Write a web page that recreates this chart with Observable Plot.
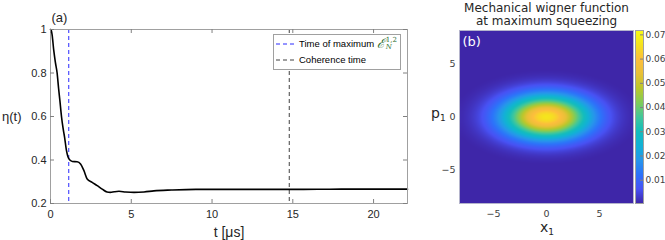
<!DOCTYPE html>
<html>
<head>
<meta charset="utf-8">
<script src="https://cdn.jsdelivr.net/npm/d3@7"></script>
<script src="https://cdn.jsdelivr.net/npm/@observablehq/plot@0.6"></script>
<style>
  body { margin: 0; background: #fff; }
  #fig { position: relative; width: 665px; height: 240px; overflow: hidden; }
  #fig > div, #fig > svg { position: absolute; }
  .legend { font-family: "Liberation Sans", Arial, sans-serif; font-size: 9.5px; color: #000;
            background: #fff; border: 1px solid #a0a0a0; padding: 1px 3px 1px 1px; line-height: 16px; }
  .legend .row { display: flex; align-items: center; white-space: nowrap; height: 16px; }
  .legend svg { margin-right: 2px; }
  .lbl { font-family: "DejaVu Sans", Verdana, sans-serif; font-size: 14px; color: #262626; line-height: 14px; white-space: nowrap; }
  .lbl sub { font-size: 9px; vertical-align: -3px; }
</style>
</head>
<body>
<div id="fig"></div>
<script>
// ---------- panel (a) data ----------
const tValues   = [0, 0.05, 0.1, 0.2, 0.3, 0.41, 0.5, 0.58, 0.68, 0.78, 0.87, 0.99, 1.14, 1.35, 1.65, 1.86, 2.07, 2.27, 2.58, 2.89, 3.2, 3.5, 3.7, 3.95, 4.24, 4.65, 5.17, 5.79, 6.4, 7.5, 9, 10, 12, 15, 18, 20, 22.1];
const etaValues = [1.0, 0.995, 0.975, 0.905, 0.85, 0.80, 0.73, 0.674, 0.60, 0.545, 0.505, 0.443, 0.405, 0.393, 0.392, 0.382, 0.351, 0.313, 0.297, 0.282, 0.266, 0.253, 0.251, 0.254, 0.256, 0.253, 0.251, 0.253, 0.258, 0.262, 0.265, 0.265, 0.265, 0.265, 0.266, 0.266, 0.266];
const tMaxEntanglement = 1.13;
const tCoherence = 14.78;
const xTicksA = [0, 5, 10, 15, 20];
const yTicksA = [0.2, 0.4, 0.6, 0.8, 1];

// ---------- panel (b) data ----------
// Wigner function values read along the x1 axis (p1 = 0) and along the p1 axis (x1 = 0), at |coordinate| = 0..8
const profileOffsets = [0, 1, 2, 3, 4, 5, 6, 7, 8];
const wignerAlongX1  = [0.0665, 0.0624, 0.0515, 0.0375, 0.0240, 0.0135, 0.0067, 0.0029, 0.0011];
const wignerAlongP1  = [0.0665, 0.0515, 0.0240, 0.0067, 0.0011, 0.00011, 0.000007, 0.0000003, 0.00000001];
const xTicksB = [-5, 0, 5];
const yTicksB = [-5, 0, 5];
const colorbarTicks = [0.01, 0.02, 0.03, 0.04, 0.05, 0.06, 0.07];
const colorbarRange = [0.0004, 0.0718];
const parulaStops = ["#3e26a8", "#4852f4", "#2d72fa", "#2796eb", "#12b1d6", "#13bdbc", "#42c79b", "#80cc59", "#bcc72b", "#e9c037", "#fdbe3d", "#f5e21f", "#f9fb15"];

const font = `"Liberation Sans", Arial, sans-serif`;
const fontB = `"DejaVu Sans", Verdana, sans-serif`;
const fig = document.getElementById("fig");

// ---------- panel (a) ----------
const data = tValues.map((t, i) => ({t, v: etaValues[i]}));
const A = Plot.plot({
  width: 420, height: 240,
  marginLeft: 50, marginRight: 13, marginTop: 29, marginBottom: 37,
  style: {fontFamily: font, fontSize: "11px", color: "#262626", background: "transparent", overflow: "visible"},
  x: {domain: [0, 22.1]},
  y: {domain: [0.2, 1]},
  marks: [
    Plot.ruleX([tMaxEntanglement], {stroke: "#2a2aff", strokeDasharray: "4,3", strokeWidth: 1}),
    Plot.ruleX([tCoherence], {stroke: "#404040", strokeDasharray: "4,3", strokeWidth: 1}),
    Plot.line(data, {x: "t", y: "v", stroke: "#000", strokeWidth: 1.6, curve: "monotone-x"}),
    Plot.frame({stroke: "#a0a0a0"}),
    Plot.ruleX(xTicksA, {insetTop: 170, stroke: "#808080"}),
    Plot.ruleX(xTicksA, {insetBottom: 170, stroke: "#808080"}),
    Plot.ruleY(yTicksA, {insetRight: 353, stroke: "#808080"}),
    Plot.ruleY(yTicksA, {insetLeft: 353, stroke: "#808080"}),
    Plot.axisX({ticks: xTicksA, tickSize: 0, tickPadding: 7, label: null, fontSize: 11}),
    Plot.axisY({ticks: yTicksA, tickSize: 0, tickPadding: 4, label: null, tickFormat: d => String(d), fontSize: 11}),
    Plot.text(["t [μs]"], {frameAnchor: "bottom", dy: 29, lineAnchor: "middle", fontSize: 14, fill: "#262626"}),
    Plot.text(["η(t)"], {frameAnchor: "left", dx: -29, textAnchor: "end", lineAnchor: "middle", fontSize: 13, fill: "#262626"}),
    Plot.text(["(a)"], {frameAnchor: "top-left", dx: 1, dy: -12, textAnchor: "start", lineAnchor: "middle", fontSize: 13, fill: "#262626"})
  ]
});
A.style.left = "0px"; A.style.top = "0px";
fig.appendChild(A);

// legend for panel (a)
const legend = document.createElement("div");
legend.className = "legend";
legend.style.left = "273px"; legend.style.top = "34px";
const dash = (c) => `<svg width="22" height="4"><line x1="1" y1="2" x2="22" y2="2" stroke="${c}" stroke-width="1" stroke-dasharray="4,3"/></svg>`;
legend.innerHTML =
  `<div class="row">${dash("#2a2aff")}<span>Time of maximum&nbsp;</span>` +
  `<span style="font-family:'DejaVu Serif',serif;font-style:italic;font-size:13px;color:#2e6e2e">ℰ</span>` +
  `<span style="display:inline-flex;flex-direction:column;font-family:'DejaVu Serif',serif;font-style:italic;font-size:7px;line-height:7px;color:#2e6e2e;margin-left:1px"><span style="font-style:normal">1,2</span><span>N</span></span></div>` +
  `<div class="row">${dash("#404040")}<span>Coherence time</span></div>`;
fig.appendChild(legend);

// ---------- panel (b) ----------
function catmullLog(values, s) {
  const L = values.map(Math.log);
  const n = L.length - 1;
  s = Math.min(Math.abs(s), n);
  let i = Math.floor(s); if (i === n) i = n - 1;
  const f = s - i;
  const get = k => k < 0 ? L[-k] : (k > n ? L[n] + (k - n) * (L[n] - L[n - 1]) : L[k]);
  const p0 = get(i - 1), p1 = get(i), p2 = get(i + 1), p3 = get(i + 2);
  const m1 = (p2 - p0) / 2, m2 = (p3 - p1) / 2;
  const f2 = f * f, f3 = f2 * f;
  return (2*f3 - 3*f2 + 1) * p1 + (f3 - 2*f2 + f) * m1 + (-2*f3 + 3*f2) * p2 + (f3 - f2) * m2;
}
const peakLog = Math.log(wignerAlongX1[0]);
const wigner = (x, p) => Math.exp(catmullLog(wignerAlongX1, x) + catmullLog(wignerAlongP1, p) - peakLog);
const parula = d3.piecewise(d3.interpolateRgb, parulaStops);

const B = Plot.plot({
  width: 210, height: 240,
  marginLeft: 34, marginRight: 2, marginTop: 30, marginBottom: 37,
  style: {fontFamily: fontB, fontSize: "9.5px", color: "#404040", background: "transparent", overflow: "visible"},
  x: {domain: [-8.2, 8.2]},
  y: {domain: [-8.1, 8.1]},
  color: {type: "linear", domain: colorbarRange, interpolate: parula, clamp: true},
  marks: [
    Plot.raster({fill: wigner, x1: -8.2, x2: 8.2, y1: -8.1, y2: 8.1, pixelSize: 1}),
    Plot.frame({stroke: "#b4b4cc"}),
    Plot.axisX({ticks: xTicksB, tickSize: 0, tickPadding: 7, label: null}),
    Plot.axisY({ticks: yTicksB, tickSize: 0, tickPadding: 4, label: null}),
    Plot.text(["(b)"], {frameAnchor: "top-left", dx: 3, dy: 11, textAnchor: "start", lineAnchor: "middle", fontSize: 13, fill: "#fff"}),
    Plot.text(["Mechanical wigner function"], {frameAnchor: "top", dy: -22, lineAnchor: "middle", fontSize: 12, fill: "#262626"}),
    Plot.text(["at maximum squeezing"], {frameAnchor: "top", dy: -9, lineAnchor: "middle", fontSize: 12, fill: "#262626"})
  ]
});
B.style.left = "425px"; B.style.top = "0px";
fig.appendChild(B);

// axis labels with subscripts
const xl = document.createElement("div");
xl.className = "lbl"; xl.innerHTML = "x<sub>1</sub>";
xl.style.left = "540px"; xl.style.top = "220px";
fig.appendChild(xl);
const pl = document.createElement("div");
pl.className = "lbl"; pl.innerHTML = "p<sub>1</sub>";
pl.style.left = "431px"; pl.style.top = "106px";
fig.appendChild(pl);

// colorbar
const C = Plot.plot({
  width: 35, height: 240,
  marginLeft: 5, marginRight: 22, marginTop: 30, marginBottom: 37,
  style: {fontFamily: fontB, fontSize: "9px", color: "#404040", background: "transparent", overflow: "visible"},
  x: {domain: [0, 1], axis: null},
  y: {domain: colorbarRange},
  color: {type: "linear", domain: colorbarRange, interpolate: parula, clamp: true},
  marks: [
    Plot.raster({fill: (x, y) => y, x1: 0, x2: 1, y1: colorbarRange[0], y2: colorbarRange[1], pixelSize: 1}),
    Plot.frame({stroke: "#a0a0a0"}),
    Plot.ruleY(colorbarTicks, {insetLeft: 5, stroke: "#808080"}),
    Plot.axisY({anchor: "right", ticks: colorbarTicks, tickSize: 0, tickPadding: 2, label: null, tickFormat: d => d.toFixed(2)})
  ]
});
C.style.left = "630px"; C.style.top = "0px";
fig.appendChild(C);
</script>
</body>
</html>
